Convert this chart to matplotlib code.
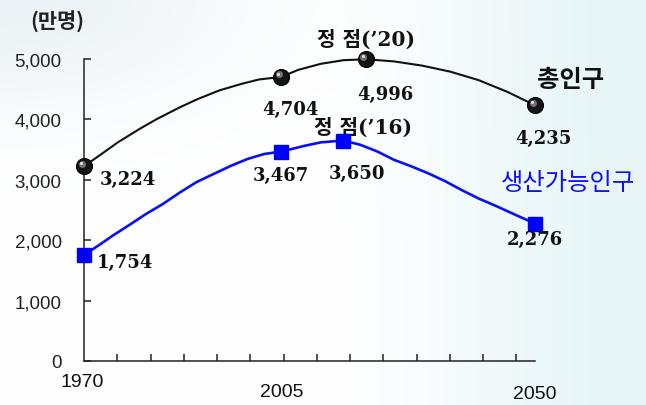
import numpy as np
import matplotlib.pyplot as plt
from matplotlib import transforms

# 총인구 / 생산가능인구 (단위: 만명)
total_years = [1970, 2005, 2020, 2050]
total_vals = [3224, 4704, 4996, 4235]
total_text = ["3,224", "4,704", "4,996", "4,235"]

work_years = [1970, 2005, 2016, 2050]
work_vals = [1754, 3467, 3650, 2276]
work_text = ["1,754", "3,467", "3,650", "2,276"]

# 곡선 궤적 (그림에서 읽은 중간값)
total_line_years = [1970, 1973, 1976, 1980, 1983, 1987, 1990, 1994, 1998, 2001,
                    2005, 2008, 2012, 2016, 2020, 2025, 2030, 2035, 2040, 2045, 2050]
total_line_vals = [3224, 3420, 3620, 3850, 4010, 4200, 4330, 4480, 4590, 4660,
                   4704, 4820, 4920, 4980, 4996, 4960, 4890, 4790, 4650, 4460, 4235]

work_line_years = [1970, 1973, 1975, 1978, 1981, 1984, 1987, 1990, 1993, 1996,
                   1999, 2002, 2005, 2009, 2012, 2016, 2019, 2022, 2025, 2028,
                   2031, 2034, 2037, 2040, 2043, 2047, 2050]
work_line_vals = [1754, 1940, 2070, 2250, 2434, 2600, 2790, 2964, 3097, 3229,
                  3345, 3428, 3467, 3560, 3620, 3650, 3580, 3470, 3330, 3225,
                  3110, 2980, 2830, 2690, 2570, 2400, 2276]

y_ticks = [0, 1000, 2000, 3000, 4000, 5000]
x_labels = [1970, 2005, 2050]

# 라벨 위치 (마커 기준, 픽셀)
total_off = [(44, -13), (9, -32), (20, -35), (8, -33)]
work_off = [(41, -7), (-1, -23), (14, -32), (0, -15)]

fig = plt.figure(figsize=(6.46, 4.06), dpi=100)
fig.patch.set_facecolor("white")

# 배경: 왼쪽 위 엷은 구름, 오른쪽 하늘색 그라데이션
H, W = 406, 646
yy, xx = np.mgrid[0:H, 0:W].astype(float)
bg = np.ones((H, W, 3))
t = np.clip((xx - 300) / 346, 0, 1)
t = t * t * (3 - 2 * t) * 0.85
cyan = np.array([0.89, 0.955, 0.965])
bg = bg * (1 - t[..., None]) + cyan * t[..., None]
w = np.exp(-((xx / 230) ** 2 + (yy / 110) ** 2)) * 0.75
cloud = np.array([0.90, 0.935, 0.95])
bg = bg * (1 - w[..., None]) + cloud * w[..., None]
fig.figimage(bg, 0, 0, origin="upper", zorder=0)

ax = fig.add_axes([84 / 646, 44 / 406, 451 / 646, 302 / 406])
ax.set_zorder(2)
ax.set_facecolor("none")
ax.set_xlim(1970, 2050)
ax.set_ylim(0, 5000)

for s in ["top", "right"]:
    ax.spines[s].set_visible(False)
for s in ["left", "bottom"]:
    ax.spines[s].set_color("#222222")
    ax.spines[s].set_linewidth(1.1)

ax.set_yticks(y_ticks)
ax.set_yticklabels([f"{v:,}" for v in y_ticks], fontsize=13.5,
                   family="Liberation Sans", color="#222222")
ax.tick_params(axis="y", direction="in", length=5, width=1.1, pad=16,
               color="#222222")
ax.set_xticks([1970 + 5.9 * k for k in range(1, 14)])
ax.set_xticklabels([])
ax.tick_params(axis="x", direction="in", length=5, width=1.1, color="#222222")

for yr, dy in zip(x_labels, [-21, -31, -33]):
    ax.annotate(str(yr), xy=(yr, 0), xycoords=("data", "data"),
                xytext=(-2 if yr == 1970 else 0, dy), textcoords="offset pixels",
                ha="center", va="center", fontsize=14,
                family="Liberation Sans", color="#111111", annotation_clip=False)

# 선
ax.plot(total_line_years, total_line_vals, color="#111111", lw=1.5,
        zorder=3, clip_on=False)
ax.plot(work_line_years, work_line_vals, color="#0a10f5", lw=1.9,
        zorder=3, clip_on=False)

# 마커: 검은 구 + 파란 사각형
ax.plot(total_years, total_vals, "o", ms=11.5, mfc="#151515", mec="#000000",
        mew=0.8, zorder=4, clip_on=False)
hl = transforms.offset_copy(ax.transData, fig=fig, x=-2.5, y=2.5, units="dots")
ax.plot(total_years, total_vals, "o", ms=5, mfc="#8a8a8a", mec="none",
        alpha=0.8, transform=hl, zorder=5, clip_on=False)
hl2 = transforms.offset_copy(ax.transData, fig=fig, x=-3, y=3, units="dots")
ax.plot(total_years, total_vals, "o", ms=2.2, mfc="#e0e0e0", mec="none",
        transform=hl2, zorder=6, clip_on=False)
ax.plot(work_years, work_vals, "s", ms=9.5, mfc="#0000ff", mec="#0000ff",
        zorder=4, clip_on=False)

num_font = dict(family="DejaVu Serif", fontweight="bold", fontsize=13,
                color="#111111", ha="center", va="center")
for x, y, s, off in zip(total_years, total_vals, total_text, total_off):
    ax.annotate(s, xy=(x, y), xytext=off, textcoords="offset pixels",
                annotation_clip=False, zorder=7, **num_font)
for x, y, s, off in zip(work_years, work_vals, work_text, work_off):
    ax.annotate(s, xy=(x, y), xytext=off, textcoords="offset pixels",
                annotation_clip=False, zorder=7, **num_font)

kor_font = ["DejaVu Serif", "Noto Sans CJK KR"]
ax.annotate("정 점(’20)", xy=(2020, 4996), xytext=(0, 21),
            textcoords="offset pixels", ha="center", va="center",
            family=kor_font, fontweight="bold", fontsize=14.5, color="#111111",
            annotation_clip=False)
ax.annotate("정 점(’16)", xy=(2016, 3650), xytext=(20, 14),
            textcoords="offset pixels", ha="center", va="center",
            family=kor_font, fontweight="bold", fontsize=14.5, color="#111111",
            annotation_clip=False)

ax.annotate("총인구", xy=(2050, 4235), xytext=(36, 26),
            textcoords="offset pixels", ha="center", va="center",
            family="Noto Sans CJK KR", fontweight="bold", fontsize=17.5,
            color="#111111", annotation_clip=False)
ax.annotate("생산가능인구", xy=(2050, 2276), xytext=(33, 42),
            textcoords="offset pixels", ha="center", va="center",
            family="Noto Sans CJK KR", fontweight="medium", fontsize=17.5,
            color="#1010f0", annotation_clip=False)

fig.text(57 / 646, 1 - 22 / 406, "(만명)", ha="center", va="center",
         family="Noto Sans CJK KR", fontweight="bold", fontsize=15,
         color="#222222", zorder=3)

fig.savefig("out.png", dpi=100)
